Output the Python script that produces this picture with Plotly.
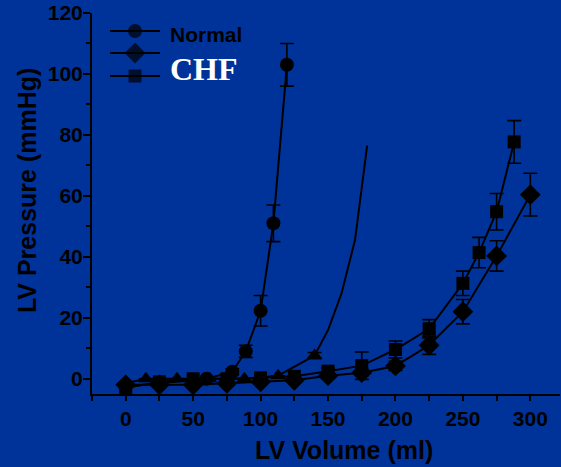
import plotly.graph_objects as go

# ---- data ----
normal_vol = [0, 60, 79, 89, 100, 109.5, 119.5]
normal_p = [-2.5, 0, 2.3, 9, 22.3, 51, 103]
normal_err = [0, 0, 1, 2, 5, 6, 7]

chf1_vol = [0, 25, 50, 75, 100, 125, 150, 175, 200, 225, 250, 275, 300]
chf1_p = [-2, -2, -2, -1.5, -1, -0.5, 1.0, 2.0, 4.2, 11, 22, 40.3, 60.4]
chf1_err = [0, 0, 0, 0, 0, 0, 0, 1, 1.5, 3, 4, 5, 7]

chf2_vol = [0, 25, 50, 75, 100, 125, 150, 175, 200, 225, 250, 262, 275, 288]
chf2_p = [-3, -1, 0, 0, 0.3, 0.8, 2.5, 4.3, 9.6, 16.4, 31.3, 41.4, 54.8, 77.7]
chf2_err = [0, 0, 0, 0, 0, 0, 1, 4.5, 2.8, 3, 4, 5, 6, 7]

tri_vol = [0, 15, 38, 62, 88, 113, 140]
tri_p = [-1.5, 0, 0, 0, 0, 1, 7.6]
tri_err = [0, 0, 0, 0, 0, 0, 1]
fit_vol = [140, 150, 160, 170, 179]
fit_p = [7.6, 16, 28, 45.5, 76.5]

x_ticks = [0, 50, 100, 150, 200, 250, 300]
y_ticks = [0, 20, 40, 60, 80, 100, 120]

BG = "#003399"
FONT = "Arial, Liberation Sans, sans-serif"

fig = go.Figure()

def err(a):
    return dict(type="data", array=a, visible=True, color="black", thickness=1.6, width=7)

def mk(sym, size):
    return dict(symbol=sym, size=size, color="black", line=dict(width=0, color="black"))

fig.add_trace(go.Scatter(x=fit_vol, y=fit_p, mode="lines",
                         line=dict(color="black", width=2), showlegend=False))
fig.add_trace(go.Scatter(x=tri_vol, y=tri_p, mode="lines+markers", error_y=err(tri_err),
                         line=dict(color="black", width=2), marker=mk("triangle-up", 14), showlegend=False))
fig.add_trace(go.Scatter(x=chf1_vol, y=chf1_p, mode="lines+markers", error_y=err(chf1_err),
                         line=dict(color="black", width=2), marker=mk("diamond", 16), showlegend=False))
fig.add_trace(go.Scatter(x=chf2_vol, y=chf2_p, mode="lines+markers", error_y=err(chf2_err),
                         line=dict(color="black", width=2), marker=mk("square", 13), showlegend=False))
fig.add_trace(go.Scatter(x=normal_vol, y=normal_p, mode="lines+markers", error_y=err(normal_err),
                         line=dict(color="black", width=2), marker=mk("circle", 14), showlegend=False))

# ---- manual legend (overlay axis in plot-area fractions) ----
leg_y = [0.9528, 0.895, 0.8346]
leg_sym = ["circle", "diamond", "square"]
leg_size = [14, 16, 13]
for yy, sym, sz in zip(leg_y, leg_sym, leg_size):
    fig.add_trace(go.Scatter(x=[0.0385, 0.0919, 0.1453], y=[yy] * 3, xaxis="x2", yaxis="y2",
                             mode="lines+markers", line=dict(color="black", width=2),
                             marker=dict(symbol=sym, size=[0, sz, 0], color="black",
                                         line=dict(width=0, color="black")),
                             showlegend=False, hoverinfo="skip"))
fig.add_annotation(xref="paper", yref="paper", x=0.162, y=0.943, xanchor="left", yanchor="middle",
                   text="<b>Normal</b>", showarrow=False,
                   font=dict(family=FONT, size=21, color="black"))
fig.add_annotation(xref="paper", yref="paper", x=0.162, y=0.853, xanchor="left", yanchor="middle",
                   text="<b>CHF</b>", showarrow=False,
                   font=dict(family="Times New Roman, Liberation Serif, serif", size=32, color="white"))

# axis titles
fig.add_annotation(xref="paper", yref="paper", x=0.538, y=-0.147, xanchor="center", yanchor="middle",
                   text="<b>LV Volume (ml)</b>", showarrow=False,
                   font=dict(family=FONT, size=25, color="black"))
fig.add_annotation(xref="paper", yref="paper", x=-0.139, y=0.535, xanchor="center", yanchor="middle",
                   text="<b>LV Pressure (mmHg)</b>", showarrow=False, textangle=-90,
                   font=dict(family=FONT, size=25, color="black"))

fig.update_layout(
    width=561, height=467,
    margin=dict(l=92, r=1, t=13, b=73),
    paper_bgcolor=BG, plot_bgcolor=BG,
    showlegend=False,
    font=dict(family=FONT, color="black"),
    xaxis=dict(range=[-25, 322], tickvals=x_ticks, ticktext=[f"<b>{v}</b>" for v in x_ticks],
               tickfont=dict(size=21, color="black"), ticks="outside", ticklen=5, tickwidth=2,
               tickcolor="black", showline=True, linecolor="black", linewidth=2,
               showgrid=False, zeroline=False,
               minor=dict(dtick=25, tick0=0, ticks="outside", ticklen=5, tickwidth=2, tickcolor="black"),
               ticklabelstandoff=0),
    yaxis=dict(range=[-5, 120], tickvals=y_ticks, ticktext=[f"<b>{v}</b>" for v in y_ticks],
               tickfont=dict(size=21, color="black"), ticks="outside", ticklen=7, tickwidth=2,
               tickcolor="black", showline=True, linecolor="black", linewidth=2,
               showgrid=False, zeroline=False,
               minor=dict(dtick=10, tick0=0, ticks="outside", ticklen=4, tickwidth=2, tickcolor="black"),
               ticklabelstandoff=-4),
    xaxis2=dict(range=[0, 1], overlaying="x", visible=False, fixedrange=True),
    yaxis2=dict(range=[0, 1], overlaying="y", visible=False, fixedrange=True),
)

fig.write_html("out.html", config={"displayModeBar": False},
               post_script="document.body.style.margin='0';document.body.style.overflow='hidden';"
                           "document.body.style.background='" + BG + "';")
